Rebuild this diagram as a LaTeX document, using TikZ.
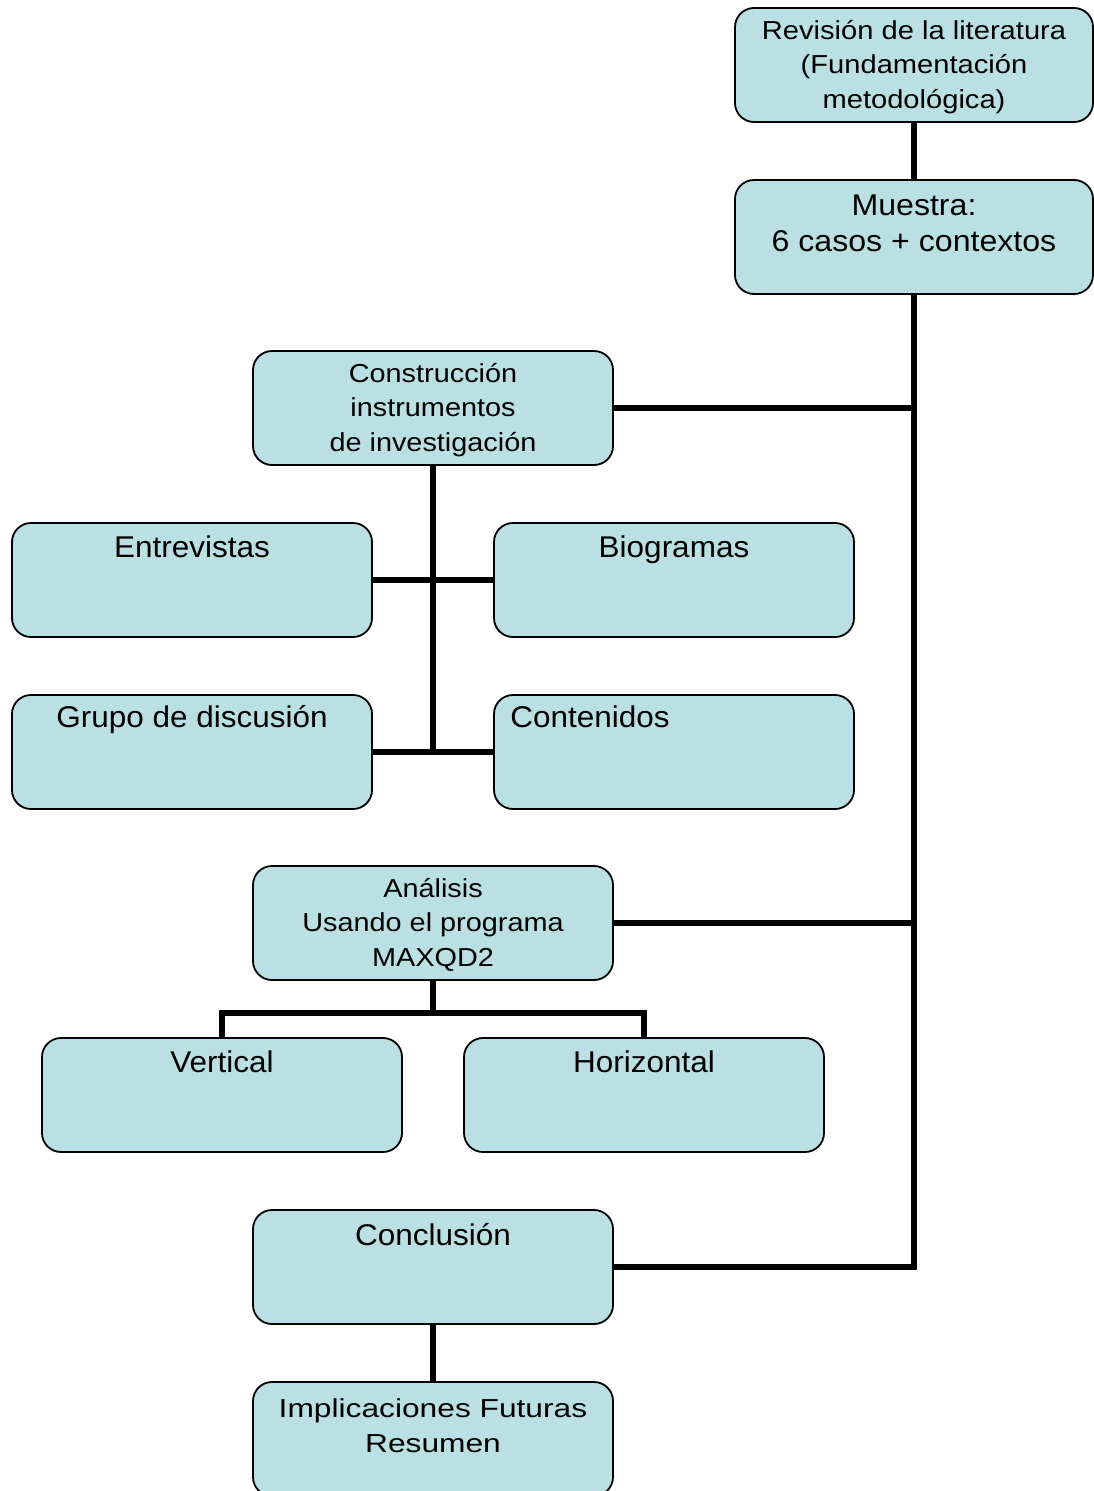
\documentclass[tikz,border=0pt]{standalone}
\usepackage{fontspec}
\setmainfont{Liberation Sans}
\usepackage{graphicx}
\usetikzlibrary{backgrounds}
\definecolor{boxfill}{RGB}{186,224,227}
\tikzset{
  box/.style={draw=black, line width=1.8pt, fill=boxfill, rounded corners=19pt,
    inner sep=0pt, minimum width=360pt, minimum height=114pt},
  lbl/.style={inner sep=0pt, anchor=base},
  conn/.style={draw=black, line width=5.5pt},
}
\newcommand{\boxtxt}[4]{\scalebox{#1}[1]{\fontsize{#2}{#3}\selectfont\begin{tabular}[t]{@{}c@{}}#4\end{tabular}}}
\begin{document}
\begin{tikzpicture}[x=1pt,y=-1pt]
\useasboundingbox (0,0) rectangle (1094,1491);
% boxes
\node[box, minimum width=358pt] (rev) at (914,65) {};
\node[box, minimum width=358pt] (mue) at (914,237) {};
\node[box] (cons) at (433,408) {};
\node[box] (ent) at (192,580) {};
\node[box] (bio) at (674,580) {};
\node[box] (gru) at (192,752) {};
\node[box] (cont) at (674,752) {};
\node[box] (ana) at (433,923) {};
\node[box] (ver) at (222,1095) {};
\node[box] (hor) at (644,1095) {};
\node[box] (concl) at (433,1267) {};
\node[box] (imp) at (433,1439) {};
% texts
\node[lbl] (t-rev) at ([yshift=-32pt]rev.north) {\boxtxt{1.12}{26}{34.5}{Revisión de la literatura\\(Fundamentación\\metodológica)}};
\node[lbl] (t-mue) at ([yshift=-36.5pt]mue.north) {\boxtxt{1.07}{30}{36}{Muestra:\\6 casos + contextos}};
\node[lbl] (t-cons) at ([yshift=-32pt]cons.north) {\boxtxt{1.11}{26}{34.5}{Construcción\\instrumentos\\de investigación}};
\node[lbl] (t-ent) at ([yshift=-35pt]ent.north) {\boxtxt{1.05}{30}{36}{Entrevistas}};
\node[lbl] (t-bio) at ([yshift=-35pt]bio.north) {\boxtxt{1.05}{30}{36}{Biogramas}};
\node[lbl] (t-gru) at ([yshift=-33pt]gru.north) {\boxtxt{1.05}{30}{36}{Grupo de discusión}};
\node[lbl, anchor=base west] (t-cont) at ([xshift=17pt,yshift=-33pt]cont.north west) {\boxtxt{1.05}{30}{36}{Contenidos}};
\node[lbl] (t-ana) at ([yshift=-32pt]ana.north) {\boxtxt{1.11}{26}{34.5}{Análisis\\Usando el programa\\MAXQD2}};
\node[lbl] (t-ver) at ([yshift=-35pt]ver.north) {\boxtxt{1.05}{30}{36}{Vertical}};
\node[lbl] (t-hor) at ([yshift=-35pt]hor.north) {\boxtxt{1.05}{30}{36}{Horizontal}};
\node[lbl] (t-concl) at ([yshift=-36pt]concl.north) {\boxtxt{1.05}{30}{36}{Conclusión}};
\node[lbl] (t-imp) at ([yshift=-36pt]imp.north) {\boxtxt{1.22}{26}{35}{Implicaciones Futuras\\Resumen}};
% connectors
\coordinate (aj) at (433,1013);
\begin{scope}[on background layer]
\draw[conn] (rev.south) -- (mue.north);
\draw[conn] (mue.south) |- (concl.east);
\draw[conn] (cons.east) -- (cons.east -| mue.south);
\draw[conn] (ana.east) -- (ana.east -| mue.south);
\draw[conn] (cons.south) -- (cons.south |- gru.east);
\draw[conn] (ent.east) -- (bio.west);
\draw[conn] (gru.east) -- (cont.west);
\draw[conn] (ana.south) -- (aj);
\draw[conn] (ver.north) |- (aj) -| (hor.north);
\draw[conn] (concl.south) -- (imp.north);
\end{scope}
\end{tikzpicture}
\end{document}
